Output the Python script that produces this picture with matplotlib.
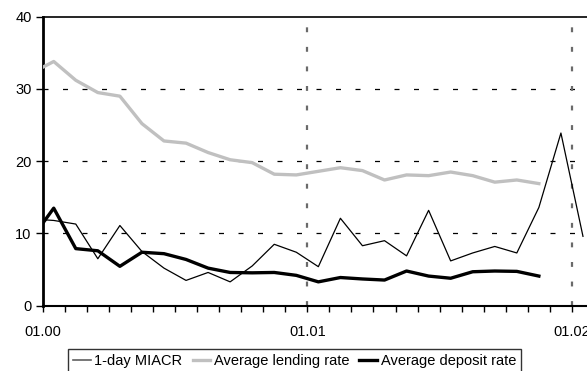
import numpy as np
import pandas as pd
import matplotlib
matplotlib.use("Agg")
import matplotlib.pyplot as plt
from matplotlib.lines import Line2D

plt.rcParams['font.family'] = ['Liberation Sans', 'DejaVu Sans']

# Monthly observations (mid-month), December 1999 onwards
miacr = [12.0, 11.8, 11.3, 6.5, 11.1, 7.5, 5.2, 3.5, 4.6, 3.3, 5.5, 8.5, 7.4,
         5.4, 12.1, 8.3, 9.0, 6.9, 13.2, 6.2, 7.3, 8.2, 7.3, 13.6, 23.9, 9.6]
lending = [32.2, 33.8, 31.2, 29.5, 29.0, 25.2, 22.8, 22.5, 21.2, 20.2, 19.8, 18.2,
           18.1, 18.6, 19.1, 18.7, 17.4, 18.1, 18.0, 18.5, 18.0, 17.1, 17.4, 16.9]
deposit = [9.3, 13.5, 7.9, 7.6, 5.45, 7.4, 7.2, 6.4, 5.2, 4.6, 4.55, 4.6, 4.2,
           3.3, 3.9, 3.7, 3.55, 4.8, 4.1, 3.8, 4.7, 4.8, 4.75, 4.1]

start = pd.Period('1999-12', freq='M')
origin = pd.Period('2000-01', freq='M')
tick_labels = ['01.00', '01.01', '01.02']
tick_periods = [pd.Period('2000-01', freq='M'), pd.Period('2001-01', freq='M'),
                pd.Period('2002-01', freq='M')]


def month_x(n):
    periods = pd.period_range(start, periods=n, freq='M')
    return np.array([(p - origin).n for p in periods]) + 0.5


W, H = 587, 371
fig = plt.figure(figsize=(W / 100, H / 100), dpi=100)
left_px, right_px, top_px, bottom_px = 42.7, 594.0, 16.7, 305.7
ax = fig.add_axes([left_px / W, 1 - bottom_px / H,
                   (right_px - left_px) / W, (bottom_px - top_px) / H])

ax.plot(month_x(len(miacr)), miacr, color='black', lw=0.9, zorder=3)
ax.plot(month_x(len(lending)), lending, color='#c0c0c0', lw=2.4, zorder=3)
ax.plot(month_x(len(deposit)), deposit, color='black', lw=2.4, zorder=4)

ax.set_xlim(0, 25)
ax.set_ylim(0, 40)

# horizontal grid
for yv in (10, 20, 30):
    ax.axhline(yv, color='black', lw=0.9, dashes=(4.0, 11.6), zorder=1)
# vertical grid at year marks
for p in tick_periods[1:]:
    ax.axvline((p - origin).n, color='#6a6a6a', lw=1.6, dashes=(2.2, 6.6), zorder=1)

ax.set_yticks([0, 10, 20, 30, 40])
ax.set_xticks([(p - origin).n for p in tick_periods])
ax.set_xticklabels(tick_labels)
ax.set_xticks(np.arange(0, 26), minor=True)
ax.tick_params(axis='y', direction='out', length=5, width=1, labelsize=10.5, pad=3)
ax.tick_params(axis='x', which='both', direction='out', length=4, width=1,
               labelsize=10.5, pad=10)

ax.spines['left'].set_linewidth(2)
ax.spines['bottom'].set_linewidth(1.5)
ax.spines['top'].set_linewidth(1.2)
ax.spines['right'].set_visible(False)

handles = [Line2D([], [], color='#606060', lw=1.2),
           Line2D([], [], color='#c0c0c0', lw=2.4),
           Line2D([], [], color='black', lw=2.4)]
labels = ['1-day MIACR', 'Average lending rate', 'Average deposit rate']
leg = fig.legend(handles, labels, ncol=3, loc='upper left',
                 bbox_to_anchor=(68 / W, 1 - 349 / H), fontsize=10.5,
                 frameon=True, fancybox=False, edgecolor='black',
                 handlelength=1.2, handletextpad=0.25, columnspacing=0.7,
                 borderpad=0.35, borderaxespad=0)
leg.get_frame().set_linewidth(1.0)

fig.savefig('out.png', dpi=100)
